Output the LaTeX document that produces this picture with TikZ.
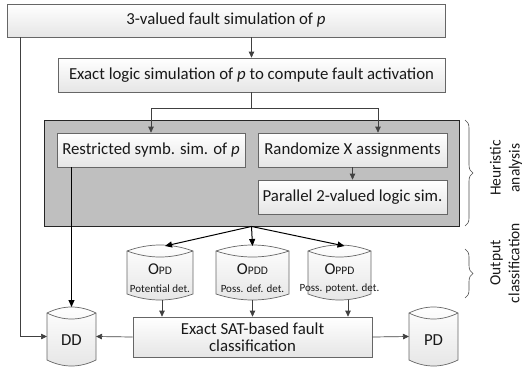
\documentclass[tikz,border=0pt]{standalone}
\usepackage{fontspec}
\setmainfont{Carlito}
\usetikzlibrary{arrows.meta,shadows,decorations.pathreplacing,calc}
\newcommand\mycyl[5]{%
 \pgfmathsetmacro\cylw{#3-#2}%
 \pgfmathsetmacro\cylx{(#2+#3)/2}%
 \pgfmathsetmacro\cyly{(#4+#5)/2}%
 \pgfmathsetmacro\cylh{#5-#4}%
 \pgfmathsetmacro\cyla{#2+\cylw/3}%
 \pgfmathsetmacro\cylb{#3-\cylw/3}%
 \path[cylfill] (#2,#4+6) .. controls (\cyla,#4-2) and (\cylb,#4-2) .. (#3,#4+6) -- (#3,#5-6) .. controls (\cylb,#5+2) and (\cyla,#5+2) .. (#2,#5-6) -- cycle;
 \draw[cylline] (#2,#4+6) .. controls (\cyla,#4+14) and (\cylb,#4+14) .. (#3,#4+6);
 \node[minimum width=\cylw pt, minimum height=\cylh pt, inner sep=0pt, outer sep=0pt] (#1) at (\cylx,\cyly) {};
}
\begin{document}
\begin{tikzpicture}[x=1pt,y=-1pt,
 font=\fontsize{16.8}{18}\selectfont, text=black!90,
 box/.style={draw=black!60, line width=0.7pt, top color=white, bottom color=black!10,
   drop shadow={shadow xshift=1.2pt, shadow yshift=-1.2pt, opacity=0.35, fill=black!60},
   inner sep=0pt, align=center},
 panel/.style={draw=black!85, line width=0.9pt, fill=black!25, inner sep=0pt},
 arr/.style={draw=black!75, line width=0.7pt, -{Triangle[length=6pt,width=5.5pt]}},
 arrb/.style={draw=black, line width=1pt, -{Triangle[length=7pt,width=6pt]}},
 cylfill/.style={draw=black!60, line width=0.7pt, top color=white, bottom color=black!10},
 cylline/.style={draw=black!60, line width=0.7pt},
 plain/.style={draw=black!75, line width=0.7pt},
 brc/.style={draw=black!70, line width=0.6pt, decorate, decoration={brace, amplitude=8pt}},
 lbl/.style={rotate=90, align=center, font=\fontsize{15.5}{19}\selectfont},
 big/.style={font=\fontsize{16.5}{18}\selectfont},
 small/.style={font=\fontsize{11}{12}\selectfont},
]
\useasboundingbox (0,0) rectangle (526,367);

\node[box, minimum width=438pt, minimum height=33pt] (b1) at (226,20.5) {3-valued fault simulation of \textit{p}};
\node[box, minimum width=387pt, minimum height=34pt] (b2) at (251.5,75) {Exact logic simulation of \textit{p} to compute fault activation};

\node[panel, minimum width=415pt, minimum height=106pt] (panel) at (251.5,173) {};
\node[box, minimum width=188pt, minimum height=34pt] (r1) at (151,150) {Restricted symb. sim. of \textit{p}};
\node[box, minimum width=189pt, minimum height=34pt] (r2) at (352.5,150) {Randomize X assignments};
\node[box, minimum width=189pt, minimum height=34pt] (r3) at (352.5,197) {Parallel 2-valued logic sim.};

\mycyl{opd}{127}{193}{245}{300}
\mycyl{opdd}{216}{289}{245}{300}
\mycyl{oppd}{308}{371}{245}{300}
\mycyl{dd}{47}{96}{307}{366}
\mycyl{pd}{409}{458}{307}{366}

\node[big] (opdT) at (160,269) {O{\fontsize{11.5}{12}\selectfont PD}};
\node[small] (opdS) at (160,289) {Potential det.};
\node[big] (opddT) at (252.5,269) {O{\fontsize{11.5}{12}\selectfont PDD}};
\node[small] (opddS) at (252.5,289) {Poss. def. det.};
\node[big] (oppdT) at (339.5,269) {O{\fontsize{11.5}{12}\selectfont PPD}};
\node[small] (oppdS) at (339.5,289) {Poss. potent. det.};
\node (ddT) at (71.5,340) {DD};
\node (pdT) at (433.5,340) {PD};

\node[box, minimum width=239pt, minimum height=40pt, font=\fontsize{16.8}{17}\selectfont] (sat) at (252.5,337) {Exact SAT-based fault\\classification};

% connectors
\draw[arr] (b2.north |- b1.south) -- (b2.north);
\coordinate (j) at ($(b2.south)+(0,16)$);
\coordinate (r2in) at ($(r2.north)+(25.5,0)$);
\draw[plain] (b2.south) -- (j);
\draw[arr] (j) -| (r1.north);
\draw[arr] (j) -| (r2in);
\draw[arr] (r2.south) -- (r3.north);

\coordinate (f1) at ($(opd.north)+(5,1)$);
\coordinate (f2) at ($(opdd.north)+(0,1)$);
\coordinate (f3) at ($(oppd.north)+(5,1)$);
\draw[arrb] (panel.south) -- (f1);
\draw[arrb] (panel.south) -- (f2);
\draw[arrb] (panel.south) -- (f3);

\coordinate (o1) at ($(opd.south)+(2,0)$);
\coordinate (o2) at (opdd.south);
\coordinate (o3) at ($(oppd.south)+(8.5,0)$);
\draw[arr] (o1) -- (o1 |- sat.north);
\draw[arr] (o2) -- (o2 |- sat.north);
\draw[arr] (o3) -- (o3 |- sat.north);

\coordinate (lt) at ($(b1.south west)+(14,0)$);
\draw[arr] (lt) |- (dd.west);
\draw[arrb] (r1.south -| dd.north) -- (dd.north);
\draw[arr] (sat.west) -- (dd.east);
\draw[arr] (sat.east) -- (pd.west);

% braces
\coordinate (h1) at (465,120);
\coordinate (h2) at (465,226);
\coordinate (c1) at (465,249);
\coordinate (c2) at (465,298);
\draw[brc] (h1) -- (h2);
\draw[brc] (c1) -- (c2);
\node[lbl] (hl) at (506,168) {Heuristic\\analysis};
\node[lbl] (ol) at (505,263) {Output\\classification};
\end{tikzpicture}
\end{document}
